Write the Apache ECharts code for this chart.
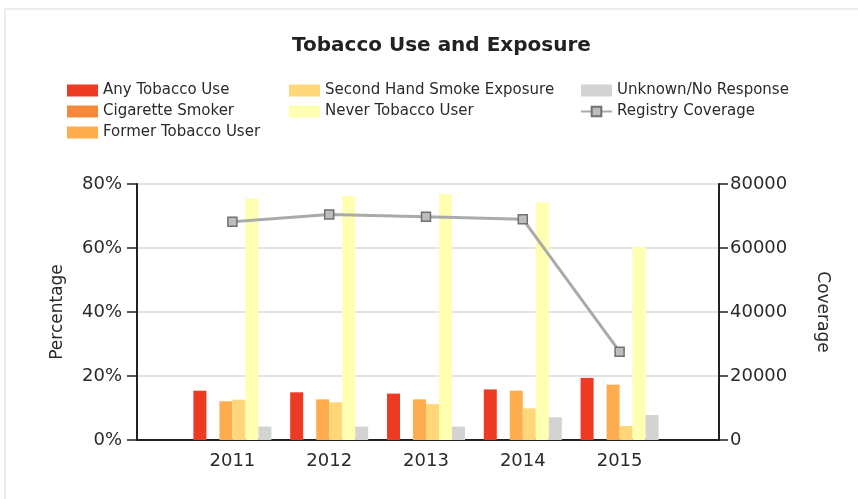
<!DOCTYPE html>
<html>
<head>
<meta charset="utf-8">
<title>Tobacco Use and Exposure</title>
<script src="https://cdn.jsdelivr.net/npm/echarts@6/dist/echarts.min.js"></script>
<style>
  html, body { margin: 0; padding: 0; background: #fff; }
  #frame {
    position: absolute; left: 4px; top: 8px; width: 860px; height: 500px;
    border-top: 2px solid #ececec; border-left: 2px solid #ececec;
  }
  #chart { position: absolute; left: 0; top: 0; width: 858px; height: 499px; }
</style>
</head>
<body>
<div id="frame"></div>
<div id="chart"></div>
<script>
// data
const years = ['2011', '2012', '2013', '2014', '2015'];
const anyTobacco = [15.4, 14.9, 14.5, 15.8, 19.4];
const cigarette = [0, 0, 0, 0, 0];
const formerUser = [12.1, 12.7, 12.7, 15.4, 17.3];
const secondHand = [12.6, 11.8, 11.2, 9.9, 4.4];
const neverUser = [75.5, 76.2, 76.9, 74.2, 60.4];
const unknown = [4.2, 4.2, 4.2, 7.1, 7.8];
const coverage = [68200, 70500, 69800, 69000, 27600];
const pctTicks = [0, 80, 20];        // min, max, interval
const covTicks = [0, 80000, 20000];

const font = 'DejaVu Sans';
const chart = echarts.init(document.getElementById('chart'));

function bar(name, data, color) {
  return {
    name: name, type: 'bar', data: data,
    xAxisIndex: 1, yAxisIndex: 2,
    barWidth: 13, barGap: '0%',
    itemStyle: { color: color },
    emphasis: { disabled: true }
  };
}

const legendBase = {
  orient: 'vertical', top: 83, padding: 0, itemGap: 6,
  itemWidth: 31, itemHeight: 12,
  textStyle: { fontFamily: font, fontSize: 15, color: '#2a2a2a', lineHeight: 15 }
};

const option = {
  animation: false,
  title: {
    text: 'Tobacco Use and Exposure',
    left: 287, top: 31,
    textStyle: { fontFamily: font, fontSize: 20, fontWeight: 'bold', color: '#222' }
  },
  legend: [
    Object.assign({ left: 67, data: [
      { name: 'Any Tobacco Use', icon: 'rect' },
      { name: 'Cigarette Smoker', icon: 'rect' },
      { name: 'Former Tobacco User', icon: 'rect' }] }, legendBase),
    Object.assign({ left: 289, data: [
      { name: 'Second Hand Smoke Exposure', icon: 'rect' },
      { name: 'Never Tobacco User', icon: 'rect' }] }, legendBase),
    Object.assign({ left: 580, data: [
      { name: 'Unknown/No Response', icon: 'rect' },
      'Registry Coverage'] }, legendBase)
  ],
  grid: [
    { left: 137, right: 139, top: 184, bottom: 59 },
    { left: 184, right: 190, top: 184, bottom: 59 }
  ],
  xAxis: [
    {
      gridIndex: 0, type: 'category', data: years,
      axisLine: { lineStyle: { color: '#222', width: 2 } },
      axisTick: { show: false }, axisLabel: { show: false }
    },
    {
      gridIndex: 1, type: 'category', data: years,
      axisLine: { show: false },
      axisTick: { alignWithLabel: true, length: 5, lineStyle: { color: '#222', width: 1.5 } },
      axisLabel: { fontFamily: font, fontSize: 18, color: '#2a2a2a', margin: 12 }
    }
  ],
  yAxis: [
    {
      gridIndex: 0, type: 'value', position: 'left',
      min: pctTicks[0], max: pctTicks[1], interval: pctTicks[2],
      name: 'Percentage', nameLocation: 'middle', nameGap: 71,
      nameTextStyle: { fontFamily: font, fontSize: 17, color: '#2a2a2a' },
      axisLine: { show: true, lineStyle: { color: '#222', width: 2 } },
      axisTick: { show: true, length: 10, lineStyle: { color: '#222', width: 1.5 } },
      axisLabel: { formatter: '{value}%', fontFamily: font, fontSize: 18, color: '#2a2a2a', margin: 15 },
      splitLine: { lineStyle: { color: '#e3e3e3', width: 2 } }
    },
    {
      gridIndex: 0, type: 'value', position: 'right',
      min: covTicks[0], max: covTicks[1], interval: covTicks[2],
      name: 'Coverage', nameLocation: 'middle', nameGap: 95, nameRotate: -90,
      nameTextStyle: { fontFamily: font, fontSize: 17, color: '#2a2a2a' },
      axisLine: { show: true, lineStyle: { color: '#222', width: 2 } },
      axisTick: { show: true, length: 9, lineStyle: { color: '#222', width: 1.5 } },
      axisLabel: { formatter: v => String(v), fontFamily: font, fontSize: 18, color: '#2a2a2a', margin: 11 },
      splitLine: { show: false }
    },
    {
      gridIndex: 1, type: 'value', show: false,
      min: pctTicks[0], max: pctTicks[1], splitLine: { show: false }
    },
    {
      gridIndex: 1, type: 'value', show: false,
      min: covTicks[0], max: covTicks[1], splitLine: { show: false }
    }
  ],
  series: [
    bar('Any Tobacco Use', anyTobacco, '#ee3a22'),
    bar('Cigarette Smoker', cigarette, '#f7883a'),
    bar('Former Tobacco User', formerUser, '#fdad4e'),
    bar('Second Hand Smoke Exposure', secondHand, '#ffd778'),
    bar('Never Tobacco User', neverUser, '#ffffb2'),
    bar('Unknown/No Response', unknown, '#d3d3d3'),
    {
      name: 'Registry Coverage', type: 'line', data: coverage,
      xAxisIndex: 1, yAxisIndex: 3, z: 5,
      symbol: 'rect', symbolSize: 9,
      lineStyle: { color: '#aaaaaa', width: 3 },
      itemStyle: { color: '#bdbdbd', borderColor: '#707070', borderWidth: 1.5 },
      emphasis: { disabled: true }
    }
  ]
};

chart.setOption(option);
</script>
</body>
</html>
